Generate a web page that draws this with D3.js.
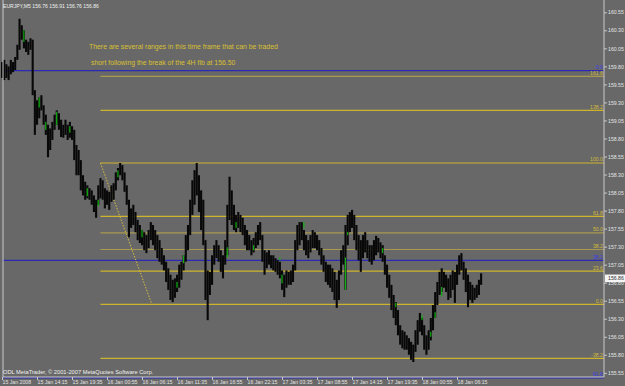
<!DOCTYPE html>
<html>
<head>
<meta charset="utf-8">
<script src="https://cdn.jsdelivr.net/npm/d3@7/dist/d3.min.js"></script>
<style>
  html, body { margin: 0; padding: 0; background: #686868; }
  svg { display: block; font-family: "Liberation Sans", Arial, sans-serif; }
</style>
</head>
<body>
<div id="chart"></div>
<script>
// EURJPY M5, one bar per 20 minutes
var barHigh = [
  159.86,159.89,159.83,159.80,159.89,159.86,159.93,160.10,160.46,160.37,
  160.30,160.17,160.14,160.19,160.17,159.47,159.33,159.37,159.40,159.26,
  159.13,158.99,158.94,159.03,159.13,159.19,159.15,159.06,158.99,159.06,
  158.99,159.03,158.97,158.92,158.71,158.64,158.50,158.29,158.20,158.15,
  158.11,158.08,158.01,157.95,158.15,158.25,158.22,158.11,158.08,158.06,
  158.15,158.18,158.33,158.39,158.46,158.43,158.33,158.15,157.95,157.83,
  157.88,157.78,157.67,157.60,157.53,157.50,157.46,157.53,157.64,157.60,
  157.53,157.46,157.39,157.28,157.18,157.09,157.00,156.91,156.84,156.86,
  156.91,157.05,157.09,157.18,157.46,157.60,157.95,158.22,158.36,158.46,
  158.29,158.08,157.95,157.39,156.97,156.95,157.18,157.32,157.39,157.32,
  157.25,157.18,157.39,157.88,158.27,158.08,157.88,157.74,157.78,157.74,
  157.70,157.60,157.53,157.46,157.39,157.42,157.50,157.60,157.64,157.46,
  157.25,157.22,157.25,157.18,157.18,157.14,157.11,157.09,156.97,156.91,
  156.97,156.95,156.97,157.05,157.39,157.60,157.64,157.64,157.53,157.46,
  157.39,157.46,157.53,157.50,157.46,157.39,157.28,157.18,157.09,157.05,
  157.05,157.00,156.95,156.84,156.97,157.25,157.32,157.60,157.74,157.78,
  157.81,157.74,157.60,157.46,157.39,157.46,157.50,157.39,157.32,157.32,
  157.39,157.45,157.42,157.36,157.32,157.18,157.05,156.91,156.77,156.63,
  156.53,156.42,156.21,156.14,156.12,156.07,156.03,155.98,155.94,156.14,
  156.28,156.38,156.31,156.21,156.07,156.14,156.31,156.49,156.67,156.81,
  156.95,157.00,156.95,156.91,156.86,156.91,156.97,156.95,157.05,157.18,
  157.21,157.09,157.00,156.91,156.81,156.77,156.73,156.77,156.84,156.93
];
var barLow = [
  159.64,159.61,159.64,159.61,159.69,159.72,159.75,159.89,160.03,160.17,
  160.05,160.00,159.96,160.03,159.40,158.85,158.99,159.08,159.19,158.99,
  158.85,158.54,158.64,158.78,158.92,158.99,158.92,158.82,158.81,158.85,
  158.78,158.81,158.78,158.50,158.29,158.29,158.08,158.01,157.95,157.97,
  157.95,157.88,157.78,157.70,157.88,157.97,157.95,157.83,157.88,157.81,
  157.92,157.95,158.08,158.22,158.29,158.22,158.06,157.88,157.43,157.56,
  157.60,157.50,157.39,157.35,157.32,157.25,157.21,157.28,157.39,157.32,
  157.25,157.14,157.09,157.05,156.97,156.81,156.70,156.56,156.53,156.59,
  156.67,156.73,156.84,156.97,157.09,157.25,157.46,157.74,157.88,158.01,
  157.78,157.53,157.32,156.56,156.28,156.63,156.77,157.05,157.14,157.09,
  156.95,156.86,157.05,157.18,157.67,157.60,157.53,157.50,157.56,157.50,
  157.46,157.32,157.25,157.25,157.18,157.22,157.28,157.32,157.39,157.09,
  156.91,157.00,157.05,157.00,156.97,156.95,156.91,156.86,156.70,156.60,
  156.73,156.77,156.77,156.81,156.97,157.25,157.32,157.39,157.25,157.18,
  157.14,157.22,157.28,157.28,157.25,157.18,157.05,156.95,156.81,156.77,
  156.73,156.67,156.56,156.45,156.56,156.91,157.05,156.70,157.32,157.50,
  157.56,157.39,157.25,157.11,156.95,157.14,157.22,157.14,157.09,157.05,
  157.11,157.18,157.22,157.14,157.09,156.91,156.73,156.59,156.42,156.31,
  156.21,156.07,155.94,155.89,155.87,155.87,155.80,155.73,155.70,155.84,
  155.94,156.12,156.07,155.87,155.80,155.87,156.00,156.14,156.31,156.49,
  156.63,156.67,156.73,156.67,156.56,156.59,156.70,156.52,156.77,156.91,
  156.97,156.84,156.67,156.46,156.56,156.52,156.56,156.59,156.63,156.77
];

// short green pieces inside some bars
var greenIdx  = [10, 17, 20, 25, 31, 39, 44, 53, 64, 80, 83, 103, 107, 115, 127, 128, 138, 157, 158, 174, 180, 192, 196, 198, 201];
var greenHigh = [160.30,159.37,159.03,159.17,158.97,158.11,157.95,158.36,157.53,156.81,157.18,157.29,157.64,157.32,157.15,156.91,157.64,157.15,157.50,157.28,156.52,156.35,156.12,156.39,156.74];
var greenLow  = [160.14,159.23,158.92,158.99,158.88,158.00,157.86,158.26,157.43,156.73,157.07,157.15,157.56,157.25,157.11,156.79,157.56,156.70,157.46,157.21,156.46,156.28,156.05,156.31,156.61];

// 4H fibo (yellow), drawn from bar 45 to the right
var fibLevels = ["161.8", "138.2", "100.0", "61.8", "50.0", "38.2", "23.6", "0.0", "-38.2"];
var fibPrices = [159.66, 159.19, 158.46, 157.72, 157.49, 157.26, 156.96, 156.50, 155.75];
var fibMuted  = ["161.8", "50.0", "38.2"];
var fibHigh = 158.46, fibLow = 156.50;

// other fibo (blue), full width
var blueLevels = ["0.0", "38.2", "61.8"];
var bluePrices = [159.74, 157.11, 155.48];

var timeLabels = ["15 Jan 2008", "15 Jan 14:15", "15 Jan 19:35", "16 Jan 00:55", "16 Jan 06:15",
  "16 Jan 11:35", "16 Jan 16:55", "16 Jan 22:15", "17 Jan 03:35", "17 Jan 08:55",
  "17 Jan 14:15", "17 Jan 19:35", "18 Jan 00:55", "18 Jan 06:15"];
var priceTicks = [155.55, 155.80, 156.05, 156.30, 156.55, 156.80, 157.05, 157.30, 157.55, 157.80,
  158.05, 158.30, 158.55, 158.80, 159.05, 159.30, 159.55, 159.80, 160.05, 160.30, 160.55];
var lastPrice = 156.86;

var width = 625, height = 386,
    plotLeft = 3, plotRight = 604, plotBottom = 377;

var svg = d3.select("#chart").append("svg")
    .attr("width", width)
    .attr("height", height);

svg.append("rect").attr("width", width).attr("height", height).attr("fill", "#686868");

var xScale = d3.scaleLinear().domain([0, 208]).range([2, 457]);
var yScale = d3.scaleLinear().domain([155.55, 160.55]).range([372.8, 12.3]);

// blue fibo lines
svg.selectAll(".blueLine")
  .data(bluePrices).enter()
  .append("line")
  .attr("class", "blueLine")
  .attr("x1", plotLeft).attr("x2", plotRight)
  .attr("y1", function(d){ return yScale(d); })
  .attr("y2", function(d){ return yScale(d); })
  .attr("stroke", "#2a2ab4")
  .attr("stroke-width", 1.2);

// yellow fibo lines
var fibX = xScale(45);
svg.selectAll(".fibLine")
  .data(fibPrices).enter()
  .append("line")
  .attr("class", "fibLine")
  .attr("x1", fibX).attr("x2", plotRight)
  .attr("y1", function(d){ return yScale(d); })
  .attr("y2", function(d){ return yScale(d); })
  .attr("stroke", function(d, i){ return fibMuted.indexOf(fibLevels[i]) >= 0 ? "#a89a50" : "#cdb42c"; })
  .attr("stroke-width", 1.2);

// dotted trend line the fibo was drawn on
svg.append("line")
  .attr("x1", fibX).attr("y1", yScale(fibHigh))
  .attr("x2", xScale(68.5)).attr("y2", yScale(fibLow))
  .attr("stroke", "#d6c040")
  .attr("stroke-width", 1)
  .attr("stroke-dasharray", "1.5,1.5");

// price bars
svg.selectAll(".bar")
  .data(barHigh).enter()
  .append("rect")
  .attr("class", "bar")
  .attr("x", function(d, i){ return xScale(i) - 1; })
  .attr("width", 2.1)
  .attr("y", function(d){ return yScale(d); })
  .attr("height", function(d, i){ return Math.max(1, yScale(barLow[i]) - yScale(d)); })
  .attr("fill", "#080808");

svg.selectAll(".greenBar")
  .data(greenIdx).enter()
  .append("rect")
  .attr("class", "greenBar")
  .attr("x", function(d){ return xScale(d) - 0.6; })
  .attr("width", 1.2)
  .attr("y", function(d, i){ return yScale(greenHigh[i]); })
  .attr("height", function(d, i){ return yScale(greenLow[i]) - yScale(greenHigh[i]); })
  .attr("fill", "#10b010");

// level labels at the right edge of the plot
svg.selectAll(".fibLabel")
  .data(fibLevels).enter()
  .append("text")
  .attr("class", "fibLabel")
  .attr("x", plotRight - 1)
  .attr("y", function(d, i){ return yScale(fibPrices[i]) - 1.5; })
  .attr("text-anchor", "end")
  .attr("font-size", "5.2px")
  .attr("fill", "#d2bc38")
  .text(function(d){ return d; });

svg.selectAll(".blueLabel")
  .data(blueLevels).enter()
  .append("text")
  .attr("class", "blueLabel")
  .attr("x", plotRight - 1)
  .attr("y", function(d, i){ return Math.min(yScale(bluePrices[i]) - 1.5, 376); })
  .attr("text-anchor", "end")
  .attr("font-size", "5.2px")
  .attr("fill", "#3c3cf0")
  .text(function(d){ return d; });

// frame
svg.append("path")
  .attr("d", "M" + plotLeft + ",0V" + plotBottom + "H" + plotRight + "V0")
  .attr("fill", "none")
  .attr("stroke", "#c8c8c8")
  .attr("stroke-width", 1);

// price axis
var yAxis = d3.axisRight(yScale)
  .tickValues(priceTicks)
  .tickSize(3)
  .tickFormat(d3.format(".2f"));
var gy = svg.append("g")
  .attr("transform", "translate(" + plotRight + ",0)")
  .call(yAxis);
gy.select(".domain").remove();
gy.selectAll("line").attr("stroke", "#c8c8c8");
gy.selectAll("text").attr("fill", "#e4e4e4").attr("font-size", "5.2px").attr("x", 4);

// time axis
var xAxis = d3.axisBottom(xScale)
  .tickValues(d3.range(0, 209, 16))
  .tickSize(3)
  .tickFormat(function(d, i){ return timeLabels[i]; });
var gx = svg.append("g")
  .attr("transform", "translate(0," + plotBottom + ")")
  .call(xAxis);
gx.select(".domain").remove();
gx.selectAll("line").attr("stroke", "#c8c8c8");
gx.selectAll("text")
  .attr("fill", "#e4e4e4")
  .attr("font-size", "5.2px")
  .attr("text-anchor", "start")
  .attr("y", 3.5);

// current price box
var gp = svg.append("g").attr("transform", "translate(" + plotRight + "," + yScale(lastPrice) + ")");
gp.append("rect").attr("x", 1).attr("y", -3.8).attr("width", 21).attr("height", 7.6).attr("fill", "#f4f4f4");
gp.append("text").attr("x", 4).attr("y", 2).attr("font-size", "5.2px").attr("fill", "#303030").text(d3.format(".2f")(lastPrice));

// texts
svg.append("text")
  .attr("x", 3).attr("y", 7.5)
  .attr("font-size", "5.1px").attr("fill", "#f0f0f0")
  .text("EURJPY,M5  156.76 156.91 156.76 156.86");

svg.append("text")
  .attr("x", 89).attr("y", 49)
  .attr("font-size", "6.9px").attr("fill", "#d8c032")
  .text("There are several ranges in this time frame that can be traded");
svg.append("text")
  .attr("x", 91).attr("y", 65)
  .attr("font-size", "6.9px").attr("fill", "#d8c032")
  .text("short following the break of the 4H fib at 156.50");

svg.append("text")
  .attr("x", 3).attr("y", 374)
  .attr("font-size", "5.7px").attr("fill", "#f0f0f0")
  .text("ODL MetaTrader, \u00a9 2001-2007 MetaQuotes Software Corp.");
</script>
</body>
</html>
